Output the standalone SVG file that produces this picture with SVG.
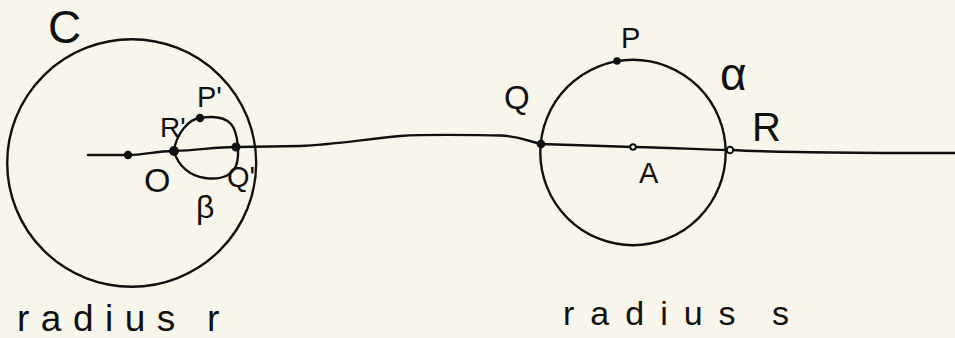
<svg xmlns="http://www.w3.org/2000/svg" width="955" height="338" viewBox="0 0 955 338">
<style>
.ink{fill:none;stroke:#111;stroke-width:2.4;stroke-linecap:round;stroke-linejoin:round}
.dot{fill:#111;stroke:#111;stroke-width:1.5}
.hol{fill:#f8f6eb;stroke:#111;stroke-width:2}
.lbl{font-family:"Liberation Sans",Arial,sans-serif;fill:#111}
</style>
<rect width="955" height="338" fill="#f8f6eb"/>
<g id="circle-C">
<ellipse class="ink" cx="131.7" cy="163" rx="124.5" ry="123.7"/>
<text class="lbl" x="48" y="43" font-size="46">C</text>
<text class="lbl" x="17" y="331" font-size="37" letter-spacing="11.5">radius<tspan x="207" letter-spacing="0">r</tspan></text>
</g>
<g id="circle-beta">
<path class="ink" d="M174,151 C176,135 188,119 200,118 C212,116 224,116 231,124 C238,132 240,155 236,166 C231,176 220,180 205,178 C190,176 178,166 174,151 Z"/>
<text class="lbl" x="196" y="218" font-size="32">β</text>
</g>
<g id="circle-alpha">
<circle class="ink" cx="633" cy="152.5" r="92.7"/>
<text class="lbl" x="720" y="90" font-size="46">α</text>
<text class="lbl" x="563" y="325" font-size="34" letter-spacing="16">radius<tspan x="772" letter-spacing="0">s</tspan></text>
</g>
<g id="connectors">
<path class="ink" d="M88,155 L128,155 C145,155 155,151 174,151 C200,150 215,147 236,147 L300,146 C330,145 360,140 400,136 C430,134 470,135 500,135.5 C518,136 528,141 541,144 L633,147 C680,148 710,150 730,150 C770,152 820,153 955,153"/>
</g>
<g id="point-O">
<circle class="dot" cx="128" cy="155" r="3.5"/>
<text class="lbl" x="144" y="192" font-size="34">O</text>
</g>
<g id="point-Rp">
<circle class="dot" cx="174" cy="151" r="4.2"/>
<text class="lbl" x="160" y="137" font-size="28">R'</text>
</g>
<g id="point-Pp">
<circle class="dot" cx="200" cy="118" r="3.4"/>
<text class="lbl" x="197" y="107" font-size="29">P'</text>
</g>
<g id="point-Qp">
<circle class="dot" cx="236" cy="147" r="3.8"/>
<text class="lbl" x="227" y="187" font-size="29">Q'</text>
</g>
<g id="point-Q">
<circle class="dot" cx="541" cy="144" r="3.6"/>
<text class="lbl" x="504" y="109" font-size="33">Q</text>
</g>
<g id="point-A">
<circle class="hol" cx="633" cy="147" r="2.8"/>
<text class="lbl" x="639" y="183" font-size="29">A</text>
</g>
<g id="point-R">
<circle class="hol" cx="730" cy="150" r="3.2"/>
<text class="lbl" x="752" y="141" font-size="40">R</text>
</g>
<g id="point-P">
<circle class="dot" cx="617" cy="61" r="3"/>
<text class="lbl" x="621" y="48" font-size="29">P</text>
</g>
</svg>
